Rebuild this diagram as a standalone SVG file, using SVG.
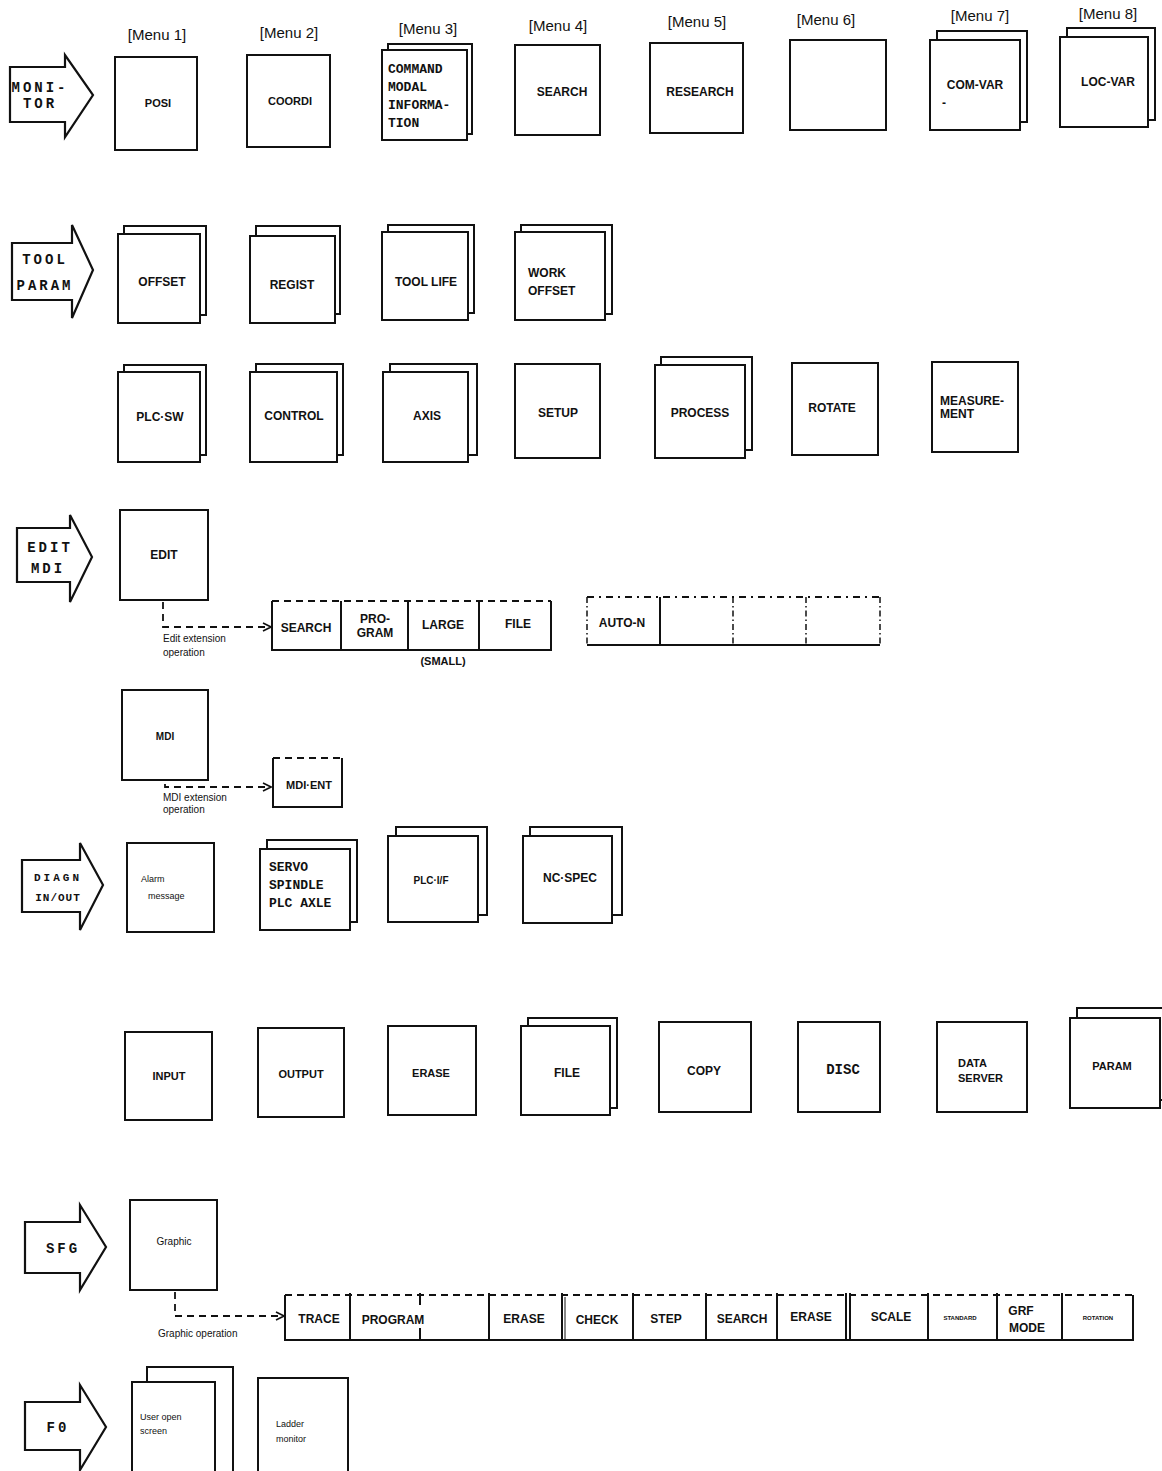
<svg xmlns="http://www.w3.org/2000/svg" width="1162" height="1471" viewBox="0 0 1162 1471">
<defs>
<style>
.b{fill:#fff;stroke:#111;stroke-width:2}
.ln{fill:none;stroke:#111;stroke-width:2}
.dl{fill:none;stroke:#111;stroke-width:1.8;stroke-dasharray:7 5}
.dd{fill:none;stroke:#111;stroke-width:1.5;stroke-dasharray:6 3 1.5 3}
.ar{fill:#fff;stroke:#111;stroke-width:2.2;stroke-linejoin:miter}
.t{font-family:"Liberation Sans",Arial,sans-serif;font-weight:bold;font-size:12px;fill:#111;text-anchor:middle}
.tl{font-family:"Liberation Sans",Arial,sans-serif;font-weight:bold;font-size:12px;fill:#111}
.s{font-family:"Liberation Sans",Arial,sans-serif;font-size:10px;fill:#111}
.xs{font-family:"Liberation Sans",Arial,sans-serif;font-weight:bold;font-size:6px;fill:#111;text-anchor:middle}
.m{font-family:"Liberation Sans",Arial,sans-serif;font-size:15px;fill:#111;text-anchor:middle}
.mono{font-family:"Liberation Mono","Courier New",monospace;font-weight:bold;font-size:13px;fill:#111}
.at{font-family:"Liberation Mono","Courier New",monospace;font-weight:bold;font-size:14px;fill:#111;text-anchor:middle;letter-spacing:3px}
</style>
<marker id="chev" viewBox="0 0 10 10" refX="9" refY="5" markerWidth="10" markerHeight="10" markerUnits="userSpaceOnUse" orient="auto">
<polyline points="1,1 9,5 1,9" fill="none" stroke="#111" stroke-width="1.6"/>
</marker>
</defs>
<rect width="1162" height="1471" fill="#fff"/>

<!-- Menu labels -->
<g id="menu-labels">
<text class="m" x="157" y="40">[Menu 1]</text>
<text class="m" x="289" y="38">[Menu 2]</text>
<text class="m" x="428" y="34">[Menu 3]</text>
<text class="m" x="558" y="31">[Menu 4]</text>
<text class="m" x="697" y="27">[Menu 5]</text>
<text class="m" x="826" y="25">[Menu 6]</text>
<text class="m" x="980" y="21">[Menu 7]</text>
<text class="m" x="1108" y="19">[Menu 8]</text>
</g>

<!-- Arrows -->
<g id="arrow-monitor">
<path class="ar" d="M10,67 L65,67 L65,55 L93,95 L65,137 L65,122 L10,122 Z"/>
<text class="at" x="40" y="92">MONI-</text>
<text class="at" x="40" y="108">TOR</text>
</g>
<g id="arrow-tool">
<path class="ar" d="M12,243 L72,243 L72,225 L93,270 L72,318 L72,300 L12,300 Z"/>
<text class="at" x="45" y="264">TOOL</text>
<text class="at" x="45" y="290">PARAM</text>
</g>
<g id="arrow-edit">
<path class="ar" d="M17,528 L70,528 L70,515 L92,557 L70,602 L70,582 L17,582 Z"/>
<text class="at" x="50" y="552">EDIT</text>
<text class="at" x="48" y="573">MDI</text>
</g>
<g id="arrow-diagn">
<path class="ar" d="M22,860 L80,860 L80,843 L103,885 L80,930 L80,912 L22,912 Z"/>
<text class="at" x="58" y="881" style="font-size:11px">DIAGN</text>
<text class="at" x="58" y="901" style="font-size:11px;letter-spacing:1px">IN/OUT</text>
</g>
<g id="arrow-sfc">
<path class="ar" d="M25,1222 L80,1222 L80,1205 L106,1247 L80,1290 L80,1273 L25,1273 Z"/>
<text class="at" x="63" y="1253">SFG</text>
</g>
<g id="arrow-f0">
<path class="ar" d="M25,1402 L80,1402 L80,1385 L106,1427 L80,1470 L80,1450 L25,1450 Z"/>
<text class="at" x="58" y="1432">F0</text>
</g>

<!-- Row 1 -->
<g id="posi"><rect class="b" x="115" y="57" width="82" height="93"/><text class="t" x="158" y="107" style="font-size:11px">POSI</text></g>
<g id="coordi"><rect class="b" x="247" y="55" width="83" height="92"/><text class="t" x="290" y="105" style="font-size:11px">COORDI</text></g>
<g id="command-modal">
<rect class="b" x="388" y="44" width="84" height="90"/>
<rect class="b" x="382" y="50" width="85" height="90"/>
<text class="mono" x="388" y="73">COMMAND</text>
<text class="mono" x="388" y="91">MODAL</text>
<text class="mono" x="388" y="109">INFORMA-</text>
<text class="mono" x="388" y="127">TION</text>
</g>
<g id="search"><rect class="b" x="515" y="45" width="85" height="90"/><text class="t" x="562" y="96">SEARCH</text></g>
<g id="research"><rect class="b" x="650" y="43" width="93" height="90"/><text class="t" x="700" y="96">RESEARCH</text></g>
<g id="menu6"><rect class="b" x="790" y="40" width="96" height="90"/></g>
<g id="com-var">
<rect class="b" x="937" y="31" width="90" height="91"/>
<rect class="b" x="930" y="40" width="90" height="90"/>
<text class="t" x="975" y="89">COM-VAR</text>
<text class="tl" x="942" y="107">-</text>
</g>
<g id="loc-var">
<rect class="b" x="1067" y="28" width="88" height="92"/>
<rect class="b" x="1060" y="37" width="88" height="90"/>
<text class="t" x="1108" y="86">LOC-VAR</text>
</g>

<!-- Row 2 -->
<g id="offset"><rect class="b" x="124" y="226" width="82" height="89"/><rect class="b" x="118" y="234" width="82" height="89"/><text class="t" x="162" y="286">OFFSET</text></g>
<g id="regist"><rect class="b" x="256" y="226" width="84" height="88"/><rect class="b" x="250" y="236" width="85" height="87"/><text class="t" x="292" y="289">REGIST</text></g>
<g id="tool-life"><rect class="b" x="388" y="225" width="86" height="88"/><rect class="b" x="382" y="232" width="86" height="88"/><text class="t" x="426" y="286">TOOL LIFE</text></g>
<g id="work-offset"><rect class="b" x="521" y="225" width="91" height="89"/><rect class="b" x="515" y="232" width="90" height="88"/><text class="tl" x="528" y="277">WORK</text><text class="tl" x="528" y="295">OFFSET</text></g>

<!-- Row 3 -->
<g id="plc-sw"><rect class="b" x="124" y="365" width="82" height="90"/><rect class="b" x="118" y="372" width="82" height="90"/><text class="t" x="160" y="421">PLC·SW</text></g>
<g id="control"><rect class="b" x="256" y="364" width="87" height="91"/><rect class="b" x="250" y="372" width="87" height="90"/><text class="t" x="294" y="420">CONTROL</text></g>
<g id="axis"><rect class="b" x="390" y="364" width="87" height="91"/><rect class="b" x="383" y="372" width="85" height="90"/><text class="t" x="427" y="420">AXIS</text></g>
<g id="setup"><rect class="b" x="515" y="364" width="85" height="94"/><text class="t" x="558" y="417">SETUP</text></g>
<g id="process"><rect class="b" x="661" y="357" width="91" height="93"/><rect class="b" x="655" y="365" width="90" height="93"/><text class="t" x="700" y="417">PROCESS</text></g>
<g id="rotate"><rect class="b" x="792" y="363" width="86" height="92"/><text class="t" x="832" y="412">ROTATE</text></g>
<g id="measurement"><rect class="b" x="932" y="362" width="86" height="90"/><text class="tl" x="940" y="405">MEASURE-</text><text class="tl" x="940" y="418">MENT</text></g>

<!-- Row 4 EDIT -->
<g id="edit"><rect class="b" x="120" y="510" width="88" height="90"/><text class="t" x="164" y="559">EDIT</text></g>
<g id="edit-ext-bar">
<line class="dl" x1="272" y1="601" x2="551" y2="601"/>
<polyline class="ln" points="272,601 272,650 551,650 551,601"/>
<line class="ln" x1="341" y1="601" x2="341" y2="650"/>
<line class="ln" x1="408" y1="601" x2="408" y2="650"/>
<line class="ln" x1="479" y1="601" x2="479" y2="650"/>
<text class="t" x="306" y="632">SEARCH</text>
<text class="t" x="375" y="623">PRO-</text>
<text class="t" x="375" y="637">GRAM</text>
<text class="t" x="443" y="629">LARGE</text>
<text class="t" x="518" y="628">FILE</text>
<text class="t" x="443" y="665" style="font-size:11px">(SMALL)</text>
</g>
<g id="edit-ext-bar2">
<line class="dl" x1="587" y1="597" x2="880" y2="597" style="stroke-dasharray:7 5 2 5"/>
<line class="dd" x1="587" y1="597" x2="587" y2="645"/>
<line class="dd" x1="880" y1="597" x2="880" y2="645"/>
<line class="ln" x1="587" y1="645" x2="880" y2="645"/>
<line class="ln" x1="660" y1="597" x2="660" y2="645"/>
<line class="dd" x1="733" y1="597" x2="733" y2="645"/>
<line class="dd" x1="806" y1="597" x2="806" y2="645"/>
<text class="t" x="622" y="627">AUTO-N</text>
</g>

<!-- Row 5 MDI -->
<g id="mdi"><rect class="b" x="122" y="690" width="86" height="90"/><text class="t" x="165" y="740" style="font-size:10px">MDI</text></g>
<g id="mdi-ent">
<line class="dl" x1="273" y1="758" x2="342" y2="758"/>
<polyline class="ln" points="273,758 273,807 342,807 342,758"/>
<text class="t" x="309" y="789" style="font-size:11px">MDI·ENT</text>
</g>

<!-- Row 6 DIAGN -->
<g id="alarm"><rect class="b" x="127" y="843" width="87" height="89"/><text class="s" x="141" y="882" style="font-size:9px">Alarm</text><text class="s" x="148" y="899" style="font-size:9px">message</text></g>
<g id="servo"><rect class="b" x="267" y="840" width="90" height="82"/><rect class="b" x="260" y="849" width="90" height="81"/>
<text class="mono" x="269" y="871">SERVO</text><text class="mono" x="269" y="889">SPINDLE</text><text class="mono" x="269" y="907">PLC AXLE</text></g>
<g id="plc-if"><rect class="b" x="396" y="827" width="91" height="88"/><rect class="b" x="388" y="836" width="90" height="86"/><text class="t" x="431" y="884" style="font-size:10px">PLC·I/F</text></g>
<g id="nc-spec"><rect class="b" x="530" y="827" width="92" height="88"/><rect class="b" x="523" y="836" width="89" height="87"/><text class="t" x="570" y="882">NC·SPEC</text></g>

<!-- Row 7 -->
<g id="input"><rect class="b" x="125" y="1032" width="87" height="88"/><text class="t" x="169" y="1080" style="font-size:11px">INPUT</text></g>
<g id="output"><rect class="b" x="258" y="1028" width="86" height="89"/><text class="t" x="301" y="1078" style="font-size:11px">OUTPUT</text></g>
<g id="erase"><rect class="b" x="388" y="1026" width="88" height="89"/><text class="t" x="431" y="1077" style="font-size:11px">ERASE</text></g>
<g id="file"><rect class="b" x="528" y="1018" width="89" height="90"/><rect class="b" x="521" y="1026" width="89" height="89"/><text class="t" x="567" y="1077">FILE</text></g>
<g id="copy"><rect class="b" x="659" y="1022" width="92" height="90"/><text class="t" x="704" y="1075">COPY</text></g>
<g id="disc"><rect class="b" x="798" y="1022" width="82" height="90"/><text class="t" x="843" y="1074" style="font-family:'Liberation Mono',monospace;font-size:14px">DISC</text></g>
<g id="data-server"><rect class="b" x="937" y="1022" width="90" height="90"/><text class="tl" x="958" y="1067" style="font-size:11px">DATA</text><text class="tl" x="958" y="1082" style="font-size:11px">SERVER</text></g>
<g id="param"><rect class="b" x="1077" y="1008" width="90" height="92"/><rect class="b" x="1070" y="1018" width="90" height="90"/><text class="t" x="1112" y="1070" style="font-size:11px">PARAM</text></g>

<!-- Row 8 SFC -->
<g id="graphic"><rect class="b" x="130" y="1200" width="87" height="90"/><text class="s" x="174" y="1245" style="text-anchor:middle">Graphic</text></g>
<g id="graphic-bar">
<line class="dl" x1="285" y1="1295" x2="1133" y2="1295"/>
<polyline class="ln" points="285,1295 285,1340 1133,1340 1133,1295"/>
<line class="ln" x1="350" y1="1293" x2="350" y2="1340"/>
<line class="ln" x1="420" y1="1293" x2="420" y2="1305"/>
<line class="ln" x1="420" y1="1328" x2="420" y2="1340"/>
<line class="ln" x1="489" y1="1293" x2="489" y2="1340"/>
<line class="ln" x1="562" y1="1293" x2="562" y2="1340"/>
<line class="ln" x1="565" y1="1297" x2="565" y2="1340" style="stroke-width:1"/>
<line class="ln" x1="633" y1="1293" x2="633" y2="1340"/>
<line class="ln" x1="706" y1="1293" x2="706" y2="1340"/>
<line class="ln" x1="777" y1="1293" x2="777" y2="1340"/>
<line class="ln" x1="846" y1="1293" x2="846" y2="1340"/>
<line class="ln" x1="850" y1="1293" x2="850" y2="1340"/>
<line class="ln" x1="928" y1="1293" x2="928" y2="1340"/>
<line class="ln" x1="997" y1="1293" x2="997" y2="1340"/>
<line class="ln" x1="1062" y1="1293" x2="1062" y2="1340"/>
<text class="t" x="319" y="1323">TRACE</text>
<text class="t" x="393" y="1324">PROGRAM</text>
<text class="t" x="524" y="1323">ERASE</text>
<text class="t" x="597" y="1324">CHECK</text>
<text class="t" x="666" y="1323">STEP</text>
<text class="t" x="742" y="1323">SEARCH</text>
<text class="t" x="811" y="1321">ERASE</text>
<text class="t" x="891" y="1321">SCALE</text>
<text class="xs" x="960" y="1320">STANDARD</text>
<text class="t" x="1021" y="1315">GRF</text>
<text class="t" x="1027" y="1332">MODE</text>
<text class="xs" x="1098" y="1320">ROTATION</text>
</g>

<!-- Row 9 F0 -->
<g id="user-open"><rect class="b" x="147" y="1367" width="86" height="110"/><rect class="b" x="132" y="1382" width="83" height="95"/><text class="s" x="140" y="1420" style="font-size:9px">User open</text><text class="s" x="140" y="1434" style="font-size:9px">screen</text></g>
<g id="ladder"><rect class="b" x="258" y="1378" width="90" height="100"/><text class="s" x="276" y="1427" style="font-size:9px">Ladder</text><text class="s" x="276" y="1442" style="font-size:9px">monitor</text></g>

<!-- Connectors -->
<g id="connectors">
<polyline class="dl" points="163,602 163,627 271,627" marker-end="url(#chev)"/>
<text class="s" x="163" y="642">Edit extension</text>
<text class="s" x="163" y="656">operation</text>
<polyline class="dl" points="165,784 165,787 271,787" marker-end="url(#chev)"/>
<text class="s" x="163" y="801">MDI extension</text>
<text class="s" x="163" y="813">operation</text>
<polyline class="dl" points="175,1292 175,1316 284,1316" marker-end="url(#chev)"/>
<text class="s" x="158" y="1337">Graphic operation</text>
</g>
</svg>
